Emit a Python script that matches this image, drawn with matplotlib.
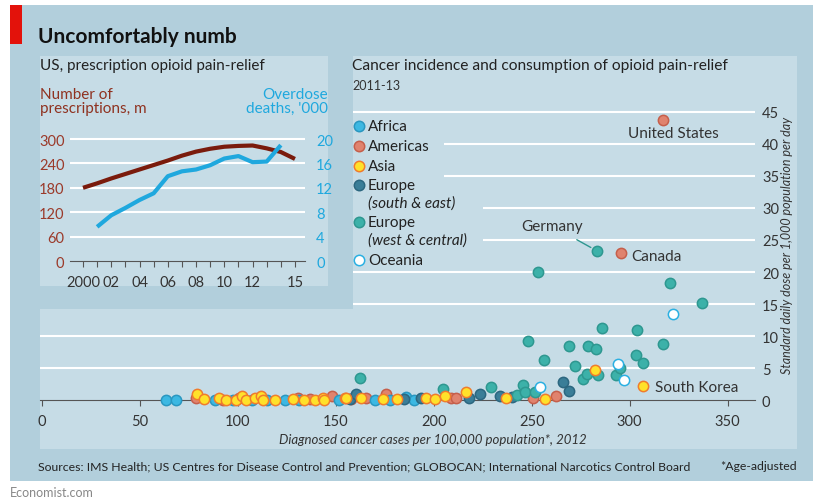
import numpy as np
import matplotlib
matplotlib.use('Agg')
from matplotlib import pyplot as plt
from matplotlib.patches import Rectangle
from matplotlib.lines import Line2D

plt.rcParams['font.family'] = ['Lato', 'DejaVu Sans']

# ---- data: US prescriptions (m) and overdose deaths ('000)
years = np.arange(2000, 2016)
prescriptions = [180, 191, 203, 214, 225, 236, 247, 259, 269, 276, 281, 283, 284, 277, 268, 251]
death_years = np.arange(2001, 2015)
deaths = [5.6, 7.5, 8.7, 10.0, 11.1, 13.9, 14.7, 15.0, 15.7, 16.8, 17.2, 16.2, 16.3, 19.0]

# ---- data: cancer incidence (x) vs opioid dose (y), by region
africa_x = [63.3, 68.4, 88.3, 97.6, 107, 115, 124, 131, 151.7, 170, 177.5, 186, 190]
africa_y = [0.1, 0.1, 0.1, 0.1, 0.1, 0.1, 0.1, 0.1, 0.1, 0.1, 0.1, 0.5, 0.1]
americas_x = [78.6, 92.2, 100.7, 130.8, 136.7, 148, 158, 165.6, 175.5, 209, 211.5, 250.7, 262.6, 295.5, 317]
americas_y = [0.3, 0.1, 0.3, 0.3, 0.15, 0.6, 0.2, 0.3, 0.9, 0.4, 0.3, 0.4, 0.6, 23.0, 43.8]
asia_x = [79.4, 82.7, 90.5, 94.2, 99.3, 101.9, 104, 109, 112, 112.6, 119, 128, 133.7, 139.3,
          143.5, 144, 154.6, 155, 163, 174, 181, 196, 200.5, 205.6, 216.7, 236.7, 256.6, 282.5, 307]
asia_y = [1.0, 0.2, 0.3, 0.1, 0.1, 0.6, 0.1, 0.3, 0.7, 0.1, 0.1, 0.15, 0.1, 0.1,
          0.3, 0.1, 0.3, 0.4, 0.3, 0.15, 0.15, 0.3, 0.15, 0.6, 1.3, 0.3, 0.15, 4.7, 2.2]
eur_se_x = [157, 160.5, 185, 193.7, 218, 223.5, 233.7, 240, 266, 269]
eur_se_y = [0.2, 0.9, 0.2, 0.3, 0.3, 0.9, 0.7, 0.5, 2.8, 1.5]
eur_wc_x = [162.6, 204.8, 229, 242.7, 245.5, 246.6, 248, 251.5, 253, 256.5, 269, 272, 276, 278,
            279, 283, 283.3, 284, 286, 293, 295, 303, 304, 307, 317, 320.4, 337]
eur_wc_y = [3.5, 1.7, 2.1, 0.8, 2.3, 1.2, 9.2, 1.3, 20.0, 6.3, 8.4, 5.3, 3.3, 4.1,
            8.4, 8.0, 23.3, 4.0, 11.2, 4.0, 5.0, 7.1, 10.9, 5.8, 8.7, 18.3, 15.1]
oceania_x = [254.4, 294, 297, 322]
oceania_y = [2.0, 5.6, 3.1, 13.4]

W, H = 813, 502
BG = '#b2cfdc'
PANEL = '#c6dce6'
DARK = '#333333'

def fig_box(x0, y0, x1, y1):
    # pixel box (top-left origin) -> figure fraction rect
    return [x0 / W, 1 - y1 / H, (x1 - x0) / W, (y1 - y0) / H]

def fx(px):
    return px / W

def fy(py):
    return 1 - py / H

fig = plt.figure(figsize=(W / 100, H / 100), dpi=100, facecolor='white')

def rect(x0, y0, x1, y1, color, z):
    b = fig_box(x0, y0, x1, y1)
    fig.add_artist(Rectangle((b[0], b[1]), b[2], b[3], transform=fig.transFigure,
                             facecolor=color, edgecolor='none', zorder=z))

rect(10, 6, 813, 482, BG, -10)
rect(40, 57, 797, 450, PANEL, -9)
rect(40, 57, 353, 310, BG, -8)
rect(40, 57, 328, 287, PANEL, -7)
rect(10, 6, 22, 45, '#e3120b', -6)

fig.text(fx(38), fy(37), 'Uncomfortably numb', fontsize=15, fontweight='bold',
         color='#111111', va='center', ha='left')

# ---------------- inset: US prescriptions and deaths
ax1 = fig.add_axes(fig_box(70, 135, 305, 262))
ax1.set_facecolor('none')
ax1.set_xlim(1999.08, 2015.71)
ax1.set_ylim(0, 312.3)
for v in [60, 120, 180, 240, 300]:
    ax1.axhline(v, color='white', lw=1.5, zorder=1)
ax1.plot(years, prescriptions, color='#7a1b0c', lw=3, zorder=3, solid_capstyle='butt')
ax2 = ax1.twinx()
ax2.set_ylim(0, 312.3 / 15)
ax2.plot(death_years, deaths, color='#1fa8de', lw=3, zorder=3, solid_capstyle='butt')
for a in (ax1, ax2):
    for s in ['top', 'right', 'left']:
        a.spines[s].set_visible(False)
ax2.spines['bottom'].set_visible(False)
ax1.spines['bottom'].set_color('#555555')
ax1.set_xticks(years)
ax1.set_xticklabels(['2000', '', '02', '', '04', '', '06', '', '08', '', '10', '', '12', '', '', '15'])
ax1.tick_params(axis='x', length=4, color='#555555', labelsize=10.5, labelcolor=DARK, pad=6)
ax1.set_yticks([0, 60, 120, 180, 240, 300])
ax1.tick_params(axis='y', length=0, labelsize=10.5, labelcolor='#9b3a2a', pad=4)
ax2.set_yticks([0, 4, 8, 12, 16, 20])
ax2.tick_params(axis='y', length=0, labelsize=10.5, labelcolor='#1fa8de', pad=8)

fig.text(fx(40), fy(66), 'US, prescription opioid pain-relief', fontsize=11,
         color='#222222', va='center', ha='left')
fig.text(fx(40), fy(102), 'Number of\nprescriptions, m', fontsize=11, color='#8f3220',
         va='center', ha='left', linespacing=1.05)
fig.text(fx(328), fy(102), "Overdose\ndeaths, '000", fontsize=11, color='#1fa8de',
         va='center', ha='right', linespacing=1.05, multialignment='right')

# ---------------- main scatter
ax = fig.add_axes(fig_box(40, 100, 755, 414))
ax.set_facecolor('none')
ax.set_xlim(-1, 364)
ax.set_ylim(-2, 47)
grid_start = {45: 158.7, 40: 205, 35: 205, 30: 225, 25: 225, 20: 158.7, 15: 158.7, 10: -1, 5: -1}
for v, x0 in grid_start.items():
    ax.plot([x0, 364], [v, v], color='white', lw=1.5, zorder=1, solid_capstyle='butt')
for s in ['top', 'right', 'left']:
    ax.spines[s].set_visible(False)
ax.spines['bottom'].set_position(('data', 0))
ax.spines['bottom'].set_color('#555555')
ax.spines['bottom'].set_zorder(1.5)
ax.set_xticks(np.arange(0, 351, 50))
ax.tick_params(axis='x', length=4, color='#555555', labelsize=10.5, labelcolor=DARK, pad=6)
ax.yaxis.tick_right()
ax.set_yticks(np.arange(0, 46, 5))
ax.tick_params(axis='y', length=0, labelsize=10.5, labelcolor=DARK, pad=5)

regions = [
    ('Americas', americas_x, americas_y, '#e0836e', '#c55f4b'),
    ('Africa', africa_x, africa_y, '#3cb8e2', '#2a97c0'),
    ('Europe S&E', eur_se_x, eur_se_y, '#3a7e98', '#2c6780'),
    ('Europe W&C', eur_wc_x, eur_wc_y, '#3cb1a9', '#2e9790'),
    ('Oceania', oceania_x, oceania_y, 'white', '#2bb0e2'),
    ('Asia', asia_x, asia_y, '#ffe12a', '#f07c2c'),
]
for i, (name, xs, ys, fc, ec) in enumerate(regions):
    ax.scatter(xs, ys, s=55, facecolor=fc, edgecolor=ec, linewidth=1.1,
               zorder=3 + i, clip_on=False)

ann_kw = dict(textcoords='offset pixels', fontsize=11, color=DARK, va='center')
ax.annotate('United States', (americas_x[-1], americas_y[-1]), xytext=(10, -13), ha='center', **ann_kw)
ax.annotate('Canada', (americas_x[-2], americas_y[-2]), xytext=(10, -3), ha='left', **ann_kw)
ax.annotate('South Korea', (asia_x[-1], asia_y[-1]), xytext=(12, -1), ha='left', **ann_kw)
ax.annotate('Germany', (eur_wc_x[16], eur_wc_y[16]), xytext=(-45, 25), ha='center',
            arrowprops=dict(arrowstyle='-', color='#2e9790', lw=1, shrinkA=6, shrinkB=5), **ann_kw)

fig.text(fx(787), fy(245), 'Standard daily dose per 1,000 population per day', rotation=90,
         fontsize=9, style='italic', color=DARK, va='center', ha='center')
fig.text(fx(433), fy(440), 'Diagnosed cancer cases per 100,000 population*, 2012',
         fontsize=9.5, style='italic', color=DARK, va='center', ha='center')

fig.text(fx(352), fy(66), 'Cancer incidence and consumption of opioid pain-relief', fontsize=11.2,
         color='#222222', va='center', ha='left')
fig.text(fx(352), fy(86), '2011-13', fontsize=9, color='#333333', va='center', ha='left')

# legend
legend_rows = [
    (127, 'Africa', 1), (147, 'Americas', 0), (167, 'Asia', 5),
    (186, 'Europe', 2), (204, '(south & east)', None),
    (223, 'Europe', 3), (241, '(west & central)', None), (261, 'Oceania', 4),
]
for py, label, idx in legend_rows:
    if idx is not None:
        fc, ec = regions[idx][3], regions[idx][4]
        fig.add_artist(Line2D([fx(359)], [fy(py)], transform=fig.transFigure, marker='o',
                              markersize=7.5, markerfacecolor=fc, markeredgecolor=ec,
                              markeredgewidth=1.1, linestyle='none'))
    fig.text(fx(368), fy(py), label, fontsize=11, color='#222222', va='center', ha='left',
             style='normal' if idx is not None else 'italic')

fig.text(fx(38), fy(467), 'Sources: IMS Health; US Centres for Disease Control and Prevention; '
         'GLOBOCAN; International Narcotics Control Board', fontsize=8.8, color='#222222',
         va='center', ha='left')
fig.text(fx(797), fy(467), '*Age-adjusted', fontsize=8.8, color='#222222', va='center', ha='right')
fig.text(fx(10), fy(493), 'Economist.com', fontsize=9, color='#888888', va='center', ha='left')

fig.savefig('out.png', dpi=100, facecolor='white')
